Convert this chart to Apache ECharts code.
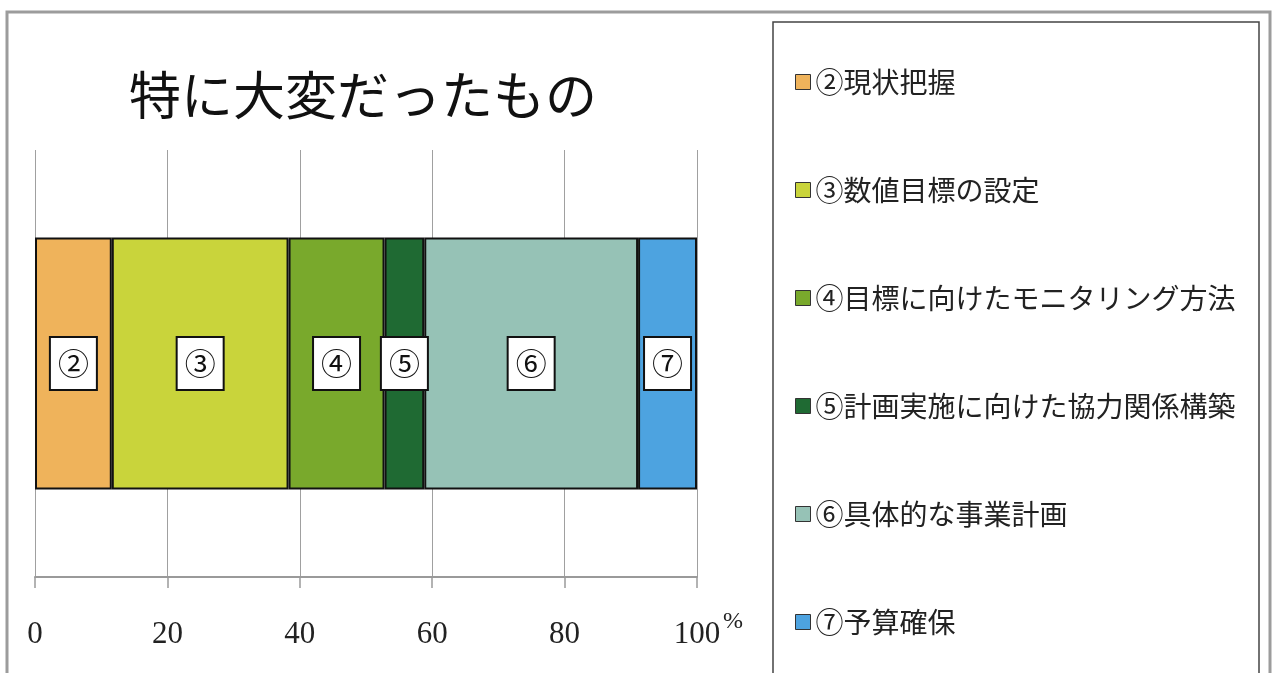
<!DOCTYPE html>
<html>
<head>
<meta charset="utf-8">
<script src="https://cdn.jsdelivr.net/npm/echarts@6/dist/echarts.min.js"></script>
<style>
  html, body { margin: 0; padding: 0; background: #ffffff; }
  #chart { width: 1284px; height: 673px; }
</style>
</head>
<body>
<div id="chart"></div>
<script>
// Share (%) of each item answered as the hardest part
const seriesNames = ['②現状把握', '③数値目標の設定', '④目標に向けたモニタリング方法', '⑤計画実施に向けた協力関係構築', '⑥具体的な事業計画', '⑦予算確保'];
const segmentMarks = ['②', '③', '④', '⑤', '⑥', '⑦'];
const shareValues = [11.6, 26.7, 14.5, 6.0, 32.3, 8.9];
const segmentColors = ['#EFB35B', '#C9D43B', '#79A92C', '#1F6A33', '#96C2B6', '#4DA3E0'];
const xTicks = [0, 20, 40, 60, 80, 100];
const categories = [''];

const cjk = '"Noto Sans CJK JP", "Noto Sans CJK SC", sans-serif';
const serif = '"Liberation Serif", "DejaVu Serif", serif';

const chart = echarts.init(document.getElementById('chart'), null, { renderer: 'canvas' });

const series = seriesNames.map((name, i) => ({
  name: name,
  type: 'bar',
  stack: 'total',
  barWidth: 252,
  data: [shareValues[i]],
  itemStyle: { color: segmentColors[i], borderColor: '#111', borderWidth: 2 },
  label: {
    show: true,
    position: 'inside',
    formatter: () => segmentMarks[i],
    fontFamily: cjk,
    fontSize: 31,
    lineHeight: 33,
    color: '#111',
    backgroundColor: '#ffffff',
    borderColor: '#111',
    borderWidth: 2,
    padding: [9, 7, 9, 7]
  },
  emphasis: { disabled: true }
}));

const option = {
  backgroundColor: '#ffffff',
  animation: false,
  title: {
    text: '特に大変だったもの',
    left: 124,
    top: 64,
    textStyle: { fontFamily: cjk, fontSize: 52, fontWeight: 'normal', color: '#111' }
  },
  legend: {
    orient: 'vertical',
    left: 790,
    top: 62,
    itemWidth: 15,
    itemHeight: 15,
    itemGap: 78,
    icon: 'rect',
    selectedMode: false,
    itemStyle: { borderColor: '#333', borderWidth: 1 },
    textStyle: { fontFamily: cjk, fontSize: 28, lineHeight: 30, color: '#222' },
    data: seriesNames
  },
  grid: { left: 35, right: 587, top: 150, bottom: 96, containLabel: false },
  xAxis: {
    type: 'value',
    min: 0,
    max: 100,
    interval: 20,
    axisLine: { show: true, lineStyle: { color: '#9a9a9a', width: 2 } },
    axisTick: { show: true, inside: false, length: 11, lineStyle: { color: '#9a9a9a', width: 1.5 } },
    splitLine: { show: true, lineStyle: { color: '#a0a0a0', width: 1 } },
    axisLabel: {
      margin: 42,
      fontFamily: serif,
      fontSize: 31,
      color: '#222',
      formatter: v => (xTicks.includes(v) ? String(v) : '')
    }
  },
  yAxis: {
    type: 'category',
    data: categories,
    axisLine: { show: false },
    axisTick: { show: false },
    axisLabel: { show: false },
    splitLine: { show: false }
  },
  graphic: [
    {
      type: 'rect',
      shape: { x: 7, y: 12, width: 1263, height: 700 },
      style: { fill: 'none', stroke: '#9c9c9c', lineWidth: 3 },
      silent: true,
      z: -1
    },
    {
      type: 'rect',
      shape: { x: 773, y: 22, width: 486, height: 700 },
      style: { fill: 'none', stroke: '#444', lineWidth: 1.5 },
      silent: true,
      z: -1
    },
    {
      type: 'text',
      left: 723,
      top: 610,
      style: { text: '%', fontFamily: serif, fontSize: 24, fill: '#222' },
      silent: true
    }
  ],
  series: series
};

chart.setOption(option);
</script>
</body>
</html>
